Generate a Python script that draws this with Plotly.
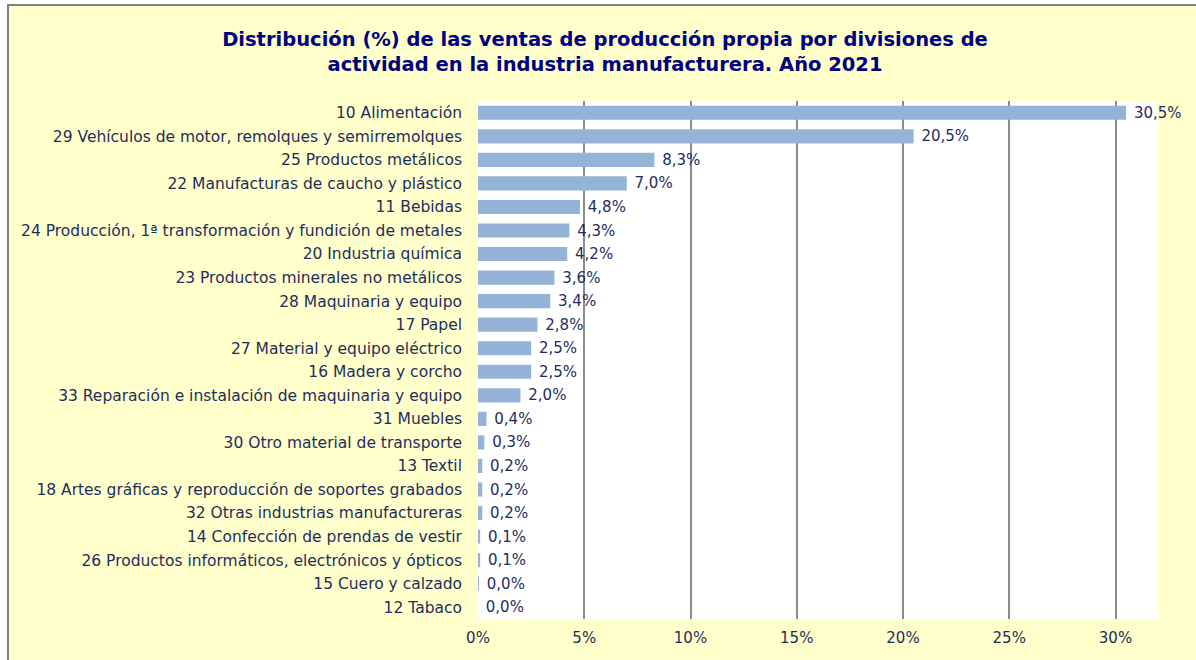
import plotly.graph_objects as go

categories = [
    "10 Alimentación",
    "29 Vehículos de motor, remolques y semirremolques",
    "25 Productos metálicos",
    "22 Manufacturas de caucho y plástico",
    "11 Bebidas",
    "24 Producción, 1ª transformación y fundición de metales",
    "20 Industria química",
    "23 Productos minerales no metálicos",
    "28 Maquinaria y equipo",
    "17 Papel",
    "27 Material y equipo eléctrico",
    "16 Madera y corcho",
    "33 Reparación e instalación de maquinaria y equipo",
    "31 Muebles",
    "30 Otro material de transporte",
    "13 Textil",
    "18 Artes gráficas y reproducción de soportes grabados",
    "32 Otras industrias manufactureras",
    "14 Confección de prendas de vestir",
    "26 Productos informáticos, electrónicos y ópticos",
    "15 Cuero y calzado",
    "12 Tabaco",
]
values = [30.5, 20.5, 8.3, 7.0, 4.8, 4.3, 4.2, 3.6, 3.4, 2.8, 2.5, 2.5, 2.0,
          0.4, 0.3, 0.2, 0.2, 0.2, 0.1, 0.1, 0.04, 0.0]
tick_vals = [0, 5, 10, 15, 20, 25, 30]
tick_text = ["0%", "5%", "10%", "15%", "20%", "25%", "30%"]

title_text = ("<b>Distribución (%) de las ventas de producción propia por divisiones de<br>"
              "actividad en la industria manufacturera. Año 2021</b>")

navy = "#1F2D5C"
font_family = "DejaVu Sans, Verdana, sans-serif"

fig = go.Figure()
fig.add_trace(go.Bar(
    x=values,
    y=categories,
    orientation="h",
    marker=dict(color="#95B3D7", line=dict(width=0)),
    width=0.6,
    text=values,
    texttemplate="\u00a0%{x:.1f}%",
    textposition="outside",
    constraintext="none",
    cliponaxis=False,
    textfont=dict(family=font_family, size=15, color=navy),
    hoverinfo="skip",
))

W, H = 1196, 660
ml, mr, mt, mb = 478, 38, 101, 41
pw, ph = W - ml - mr, H - mt - mb

def px_to_paper_x(px):
    return (px - ml) / pw

def px_to_paper_y(py):
    return (H - mb - py) / ph

fig.update_layout(
    width=W, height=H,
    margin=dict(l=ml, r=mr, t=mt, b=mb, pad=0),
    paper_bgcolor="white",
    plot_bgcolor="rgba(0,0,0,0)",
    separators=",.",
    showlegend=False,
    title=dict(text=title_text, x=605 / W, xref="container", xanchor="center",
               y=1 - 46 / H, yref="container", yanchor="middle",
               font=dict(family=font_family, size=19.5, color="#000080")),
    font=dict(family=font_family, size=15, color=navy),
    shapes=[
        dict(type="rect", xref="paper", yref="paper", layer="below",
             x0=px_to_paper_x(8), x1=px_to_paper_x(1205),
             y0=px_to_paper_y(670), y1=px_to_paper_y(5),
             fillcolor="#FFFFCC", line=dict(color="#808080", width=2)),
        dict(type="rect", xref="paper", yref="paper", layer="below",
             x0=0, x1=1, y0=0, y1=1,
             fillcolor="white", line=dict(width=0)),
    ],
)
fig.update_xaxes(
    range=[0, 32],
    tickvals=tick_vals,
    ticktext=tick_text,
    showgrid=True, gridcolor="#8C8C8C", gridwidth=1.5,
    zeroline=False,
    showline=False,
    ticks="",
    ticklabelstandoff=8,
    tickfont=dict(family=font_family, size=15, color=navy),
    fixedrange=True,
)
fig.update_yaxes(
    autorange="reversed",
    showgrid=False,
    showline=False,
    ticks="",
    ticklabelstandoff=15,
    tickfont=dict(family=font_family, size=15.5, color=navy),
    fixedrange=True,
)

fig.write_html("out.html", config={"displayModeBar": False},
               post_script="document.body.style.margin='0';")
